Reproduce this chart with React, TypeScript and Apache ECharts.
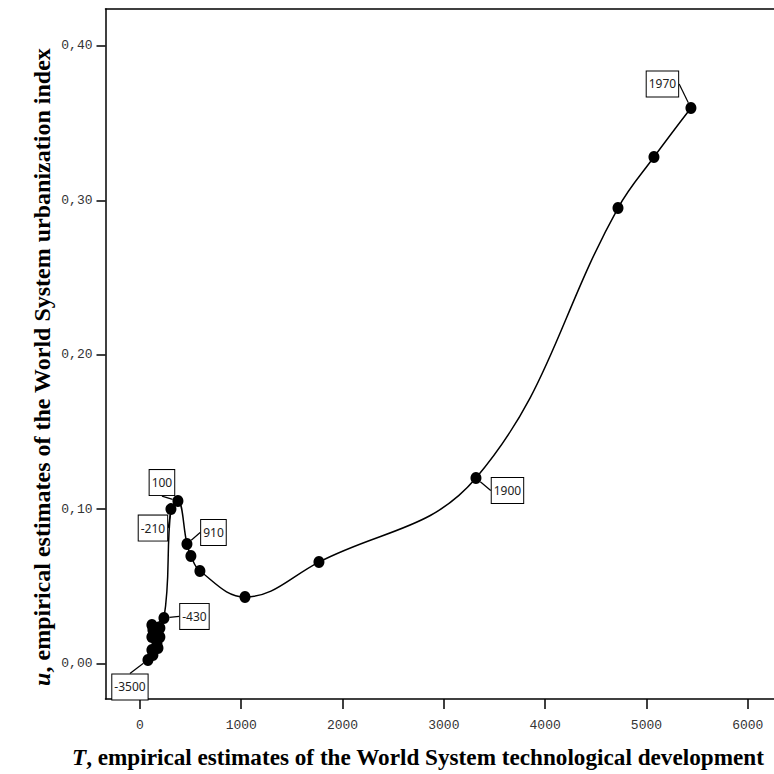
import React, { useEffect, useRef } from "react";
import * as echarts from "echarts";

// T (technological development) and u (urbanization) estimates, in time order
const tValues = [79, 128, 118, 178, 168, 118, 197, 128, 197, 118, 237, 306, 375, 464, 503, 592, 1037, 1767, 3317, 4719, 5074, 5439];
const uValues = [0.0023, 0.0055, 0.0087, 0.01, 0.0133, 0.0172, 0.0172, 0.0217, 0.023, 0.0249, 0.0295, 0.1, 0.1052, 0.0774, 0.0696, 0.0599, 0.0431, 0.0657, 0.1201, 0.295, 0.328, 0.3598];
// year labels for selected points ('' = unlabeled)
const pointLabels = ["-3500", "", "", "", "", "", "", "", "", "", "-430", "-210", "100", "910", "", "", "", "", "1900", "", "", "1970"];

const xTicks = [0, 1000, 2000, 3000, 4000, 5000, 6000];
const yTicks = [0, 0.1, 0.2, 0.3, 0.4];

// where each year box sits relative to its point (px)
const labelShift: Record<string, [number, number]> = {
  "-3500": [-18, 27],
  "-430": [30.5, -1.5],
  "-210": [-18, 19],
  "100": [-16, -18.5],
  "910": [26.5, -11.5],
  "1900": [31.5, 12.5],
  "1970": [-28.5, -24],
};

const X_TITLE = "T";
const X_TITLE_REST = ", empirical estimates of the World System technological development";
const Y_TITLE = "u";
const Y_TITLE_REST = ", empirical estimates of the World System urbanization index";

export default function App() {
  const ref = useRef<HTMLDivElement>(null);

  useEffect(() => {
    if (!ref.current) return;
    const chart = echarts.init(ref.current, null, { renderer: "svg" });
    const points = tValues.map((t, i) => [t, uValues[i]]);
    const tickFont = '"Liberation Mono", monospace';
    const titleFont = '"Liberation Serif", "Times New Roman", serif';
    const frame = { color: "#000", width: 1.5 };

    chart.setOption({
      animation: false,
      backgroundColor: "#ffffff",
      grid: {
        left: 105.5,
        right: 0,
        top: 9,
        bottom: 75,
        show: false,
      },
      xAxis: [
        {
          type: "value",
          min: -340,
          max: 6259,
          splitLine: { show: false },
          axisLine: { show: true, onZero: false, lineStyle: frame },
          axisTick: { show: true, length: 10, customValues: xTicks, lineStyle: frame },
          axisLabel: {
            customValues: xTicks,
            margin: 20,
            color: "#333",
            fontFamily: tickFont,
            fontSize: 13,
            formatter: (v: number) => String(v),
          },
        },
        {
          // top edge of the frame
          type: "value",
          position: "top",
          min: -340,
          max: 6259,
          splitLine: { show: false },
          axisLine: { show: true, onZero: false, lineStyle: frame },
          axisTick: { show: false },
          axisLabel: { show: false },
        },
      ],
      yAxis: {
        type: "value",
        min: -0.023,
        max: 0.4239,
        splitLine: { show: false },
        axisLine: { show: true, onZero: false, lineStyle: frame },
        axisTick: { show: true, length: 9, customValues: yTicks, lineStyle: frame },
        axisLabel: {
          customValues: yTicks,
          margin: 13,
          color: "#333",
          fontFamily: tickFont,
          fontSize: 13,
          formatter: (v: number) => v.toFixed(2).replace(".", ","),
        },
      },
      series: [
        {
          type: "line",
          data: points,
          smooth: 0.4,
          showSymbol: false,
          symbol: "none",
          lineStyle: { color: "#000", width: 1.5 },
          z: 2,
        },
        {
          type: "scatter",
          data: points.map((p, i) => ({
            value: p,
            label: { show: pointLabels[i] !== "" },
            labelLine: { show: pointLabels[i] !== "" },
          })),
          symbol: "circle",
          symbolSize: [11, 12],
          itemStyle: { color: "#000", opacity: 1 },
          z: 3,
          label: {
            position: "inside",
            formatter: (p: any) => pointLabels[p.dataIndex],
            color: "#222",
            fontFamily: '"Noto Sans", sans-serif',
            fontSize: 12,
            lineHeight: 15,
            backgroundColor: "#fff",
            borderColor: "#000",
            borderWidth: 1,
            padding: [5, 2],
          },
          labelLine: {
            show: true,
            lineStyle: { color: "#000", width: 1.2 },
          },
          labelLayout: (params: any) => {
            const s = labelShift[pointLabels[params.dataIndex]];
            return s ? { dx: s[0], dy: s[1] } : {};
          },
        },
      ],
      graphic: [
        {
          type: "text",
          x: 72,
          y: 757,
          style: {
            text: `{i|${X_TITLE}}{n|${X_TITLE_REST}}`,
            verticalAlign: "middle",
            align: "left",
            rich: {
              i: { fontFamily: titleFont, fontSize: 23.2, fontWeight: "bold", fontStyle: "italic", fill: "#000" },
              n: { fontFamily: titleFont, fontSize: 23.2, fontWeight: "bold", fill: "#000" },
            },
          },
        },
        {
          type: "text",
          x: 42,
          y: 367,
          rotation: Math.PI / 2,
          style: {
            text: `{i|${Y_TITLE}}{n|${Y_TITLE_REST}}`,
            verticalAlign: "middle",
            align: "center",
            rich: {
              i: { fontFamily: titleFont, fontSize: 24, fontWeight: "bold", fontStyle: "italic", fill: "#000" },
              n: { fontFamily: titleFont, fontSize: 24, fontWeight: "bold", fill: "#000" },
            },
          },
        },
      ],
    });

    return () => chart.dispose();
  }, []);

  return <div ref={ref} style={{ width: 774, height: 774, position: "absolute", left: 0, top: 0 }} />;
}
